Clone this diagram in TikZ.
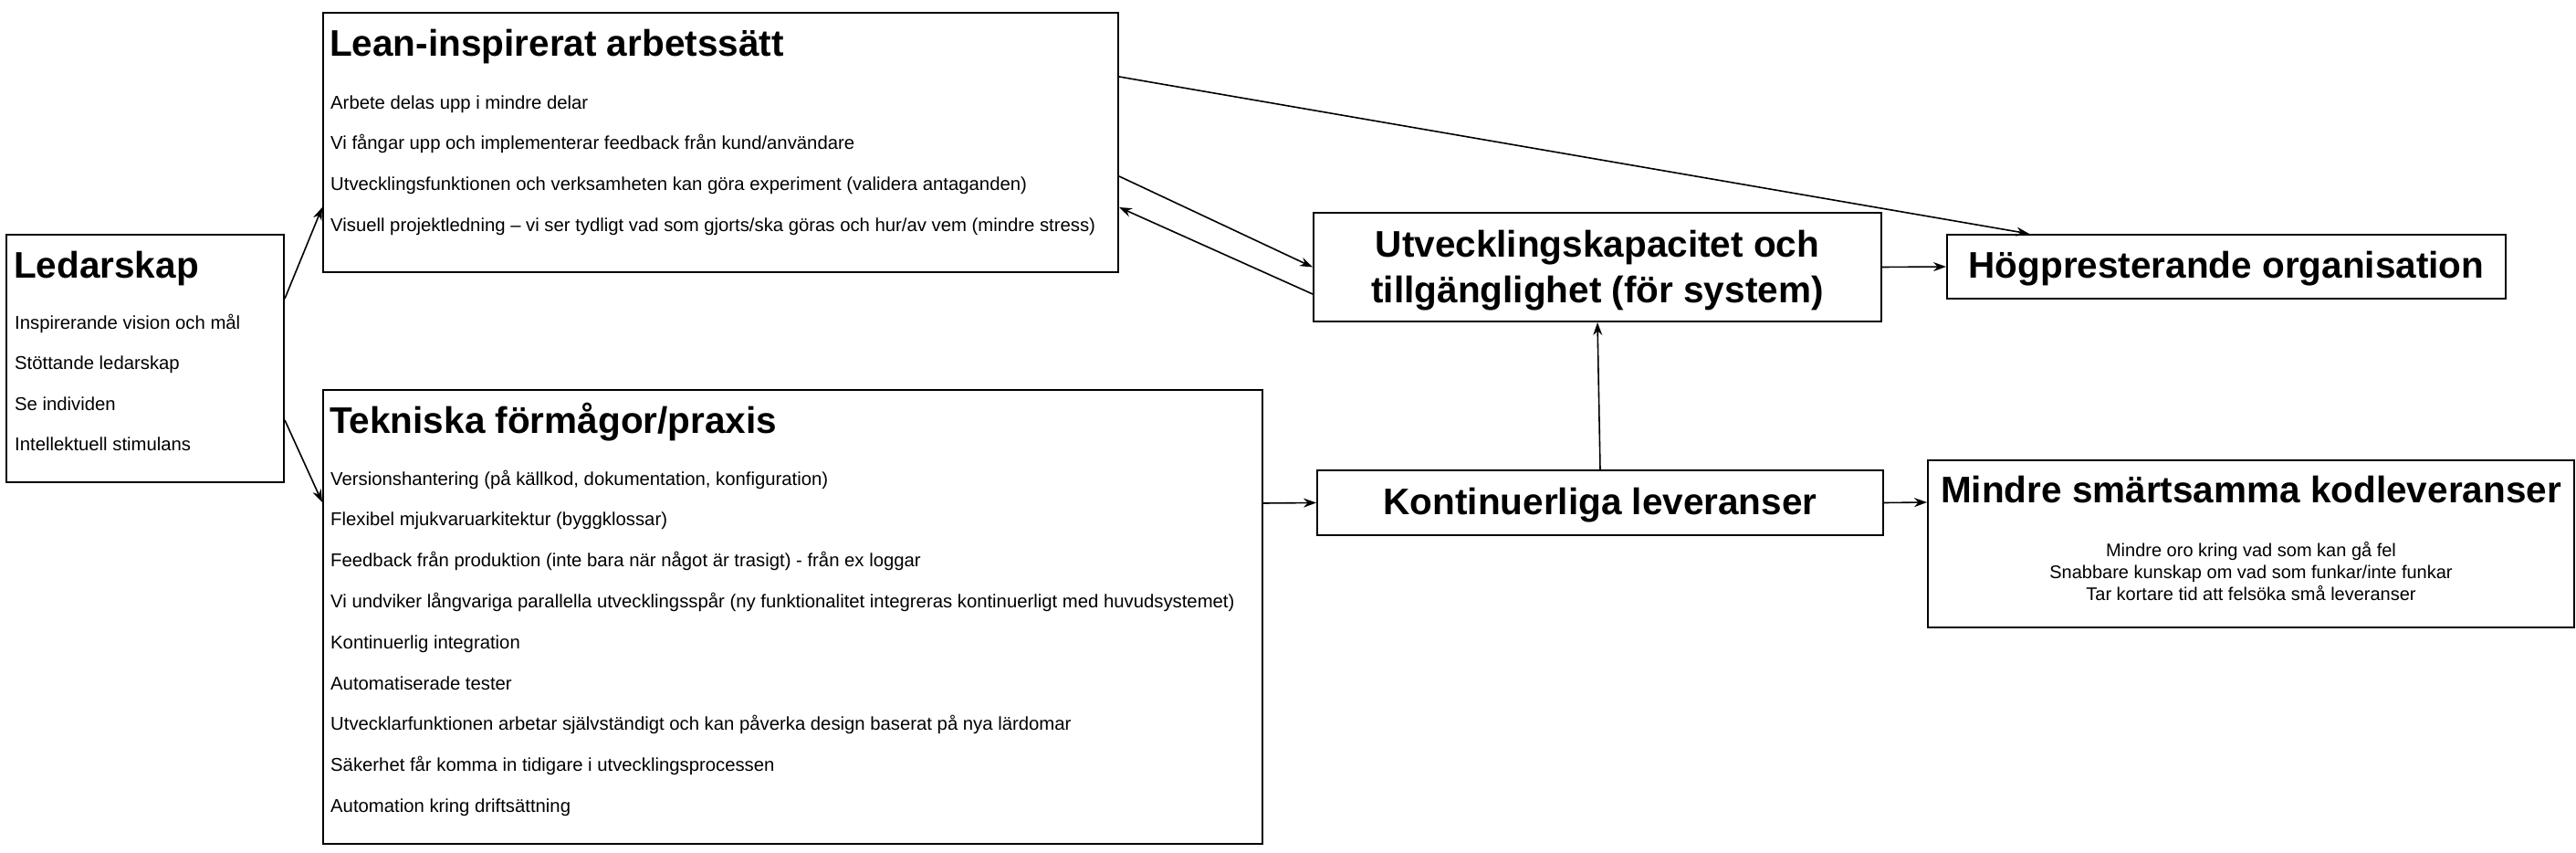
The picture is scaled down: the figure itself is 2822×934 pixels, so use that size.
\documentclass[tikz,border=0pt]{standalone}
\usepackage{fontspec}
\setmainfont{Liberation Sans}
\usetikzlibrary{arrows.meta,calc}
\tikzset{
 box/.style={draw=black, line width=2pt, fill=white, inner sep=0pt, rectangle},
 conn/.style={line width=1.6pt, -{Stealth[length=14pt,width=10pt]}},
 ttl/.style={font=\fontsize{40.5}{48.6}\selectfont\bfseries, inner sep=0pt},
 itm/.style={font=\fontsize{20.3}{24.4}\selectfont, inner sep=0pt, anchor=base west},
 itc/.style={font=\fontsize{20}{24}\selectfont, inner sep=0pt, anchor=base},
}
\begin{document}
\begin{tikzpicture}[x=1pt,y=-1pt]
\useasboundingbox (0,0) rectangle (2822,934);
% boxes
\node[box, minimum width=304pt, minimum height=271pt] (led) at (159,392.5) {};
\node[box, minimum width=871pt, minimum height=284pt] (lean) at (789.5,156) {};
\node[box, minimum width=1029pt, minimum height=497pt] (tek) at (868.5,675.5) {};
\node[box, minimum width=622pt, minimum height=119pt] (utv) at (1750,292.5) {};
\node[box, minimum width=612pt, minimum height=70pt] (hog) at (2439,292) {};
\node[box, minimum width=620pt, minimum height=71pt] (kon) at (1753,550.5) {};
\node[box, minimum width=708pt, minimum height=183pt] (min) at (2466,595.5) {};
% Ledarskap
\node[ttl, anchor=base west] (ledT) at (15,304) {Ledarskap};
\node[itm] (led1) at (16,360) {Inspirerande vision och mål};
\node[itm] (led2) at (16,404.5) {Stöttande ledarskap};
\node[itm] (led3) at (16,449) {Se individen};
\node[itm] (led4) at (16,493.5) {Intellektuell stimulans};
% Lean
\node[ttl, anchor=base west] (leanT) at (361,61.7) {Lean-inspirerat arbetssätt};
\node[itm] (lean1) at (362,119) {Arbete delas upp i mindre delar};
\node[itm] (lean2) at (362,163.7) {Vi fångar upp och implementerar feedback från kund/användare};
\node[itm] (lean3) at (362,208.4) {Utvecklingsfunktionen och verksamheten kan göra experiment (validera antaganden)};
\node[itm] (lean4) at (362,253.1) {Visuell projektledning – vi ser tydligt vad som gjorts/ska göras och hur/av vem (mindre stress)};
% Tekniska
\node[ttl, anchor=base west] (tekT) at (361,474.5) {Tekniska förmågor/praxis};
\node[itm] (tek1) at (362,531) {Versionshantering (på källkod, dokumentation, konfiguration)};
\node[itm] (tek2) at (362,575.8) {Flexibel mjukvaruarkitektur (byggklossar)};
\node[itm] (tek3) at (362,620.6) {Feedback från produktion (inte bara när något är trasigt) - från ex loggar};
\node[itm] (tek4) at (362,665.4) {Vi undviker långvariga parallella utvecklingsspår (ny funktionalitet integreras kontinuerligt med huvudsystemet)};
\node[itm] (tek5) at (362,710.2) {Kontinuerlig integration};
\node[itm] (tek6) at (362,755) {Automatiserade tester};
\node[itm] (tek7) at (362,799.8) {Utvecklarfunktionen arbetar självständigt och kan påverka design baserat på nya lärdomar};
\node[itm] (tek8) at (362,844.6) {Säkerhet får komma in tidigare i utvecklingsprocessen};
\node[itm] (tek9) at (362,889.4) {Automation kring driftsättning};
% centred boxes
\node[ttl, anchor=base] (utvT1) at (1750,281) {Utvecklingskapacitet och};
\node[ttl, anchor=base] (utvT2) at (1750,331) {tillgänglighet (för system)};
\node[ttl, anchor=base] (hogT) at (2439,304.5) {Högpresterande organisation};
\node[ttl, anchor=base] (konT) at (1753,563) {Kontinuerliga leveranser};
\node[ttl, anchor=base] (minT) at (2466,550.5) {Mindre smärtsamma kodleveranser};
\node[itc] (min1) at (2466,609) {Mindre oro kring vad som kan gå fel};
\node[itc] (min2) at (2466,633) {Snabbare kunskap om vad som funkar/inte funkar};
\node[itc] (min3) at (2466,657) {Tar kortare tid att felsöka små leveranser};
% connectors
\draw[conn] ([yshift=65.5pt]led.east) -- ([yshift=-71pt]lean.west);
\draw[conn] ([yshift=-67.5pt]led.east) -- ([yshift=125.5pt]tek.west);
\draw[conn] ([yshift=-37pt]lean.east) -- (utv.west);
\draw[conn] ([yshift=-29.5pt]utv.west) -- ([yshift=-71pt]lean.east);
\draw[conn] ([yshift=72pt]lean.east) -- ([xshift=-216pt]hog.north);
\draw[conn] (utv.east) -- (hog.west);
\draw[conn] ([yshift=124.5pt]tek.east) -- (kon.west);
\draw[conn] (kon.north) -- (utv.south);
\draw[conn] (kon.east) -- ([yshift=45.5pt]min.west);
\end{tikzpicture}
\end{document}
